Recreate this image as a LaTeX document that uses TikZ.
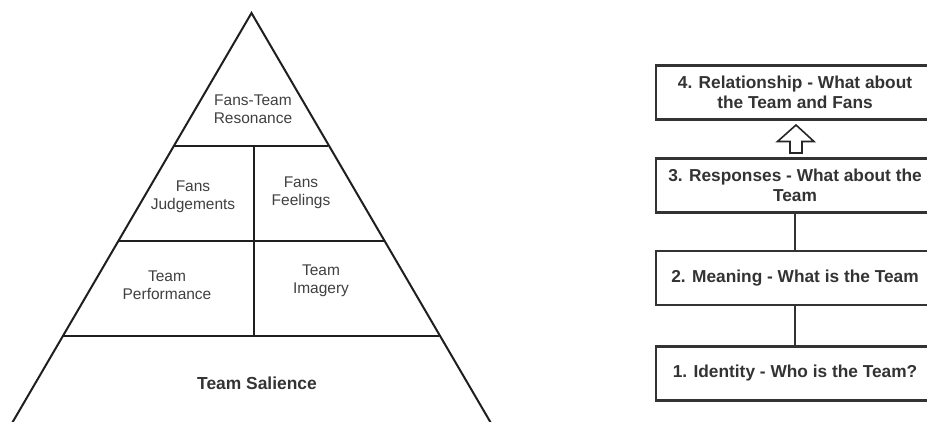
\documentclass[tikz,border=0pt]{standalone}
\usepackage{fontspec}
\setmainfont{Liberation Sans}
\begin{document}
\begin{tikzpicture}[x=1pt,y=-1pt,
  edge/.style={draw=black!88, line width=2pt},
  ptext/.style={text=black!75, align=center, inner sep=0pt, font=\fontsize{15.5pt}{18pt}\selectfont},
  ltext/.style={text=black!80, align=center, inner sep=0pt, font=\bfseries\fontsize{17.4pt}{20pt}\selectfont},
  levelbox/.style={draw=black!80, line width=2.2pt, fill=white, minimum width=278pt, minimum height=54pt, inner sep=0pt, align=center, text=black!80, font=\bfseries\fontsize{17.3pt}{20pt}\selectfont},
  link/.style={draw=black!80, line width=2.2pt},
  hollow/.style={draw=black!85, line width=1.6pt, fill=white, line join=miter}
]
\clip (0,0) rectangle (927,421);
\fill[white] (0,0) rectangle (927,421);

% ---------- pyramid ----------
\coordinate (apex) at (251.5,13);
\coordinate (bl) at (8,430);
\coordinate (br) at (495,430);
\draw[edge, line join=miter] (bl) -- (apex) -- (br);
\coordinate (l1) at (173.8,146); \coordinate (r1) at (327.5,146);
\coordinate (l2) at (118.5,241); \coordinate (r2) at (383.5,241);
\coordinate (l3) at (63,336);    \coordinate (r3) at (439,336);
\coordinate (vt) at (254,146);   \coordinate (vb) at (254,336);
\draw[edge] (l1) -- (r1);
\draw[edge] (l2) -- (r2);
\draw[edge] (l3) -- (r3);
\draw[edge] (vt) -- (vb);

\node[ptext] (res)  at (253,109) {Fans-Team\\Resonance};
\node[ptext] (judg) at (193,197) {Fans\\Judgements};
\node[ptext] (feel) at (301,193) {Fans\\Feelings};
\node[ptext] (perf) at (167,285) {Team\\Performance};
\node[ptext] (imag) at (321,281) {Team\\Imagery};
\node[ltext] (sal)  at (257,383) {Team Salience};

% ---------- levels ----------
\node[levelbox] (b4) at (795,92.5)  {4. Relationship - What about\\the Team and Fans};
\node[levelbox] (b3) at (795,185.5) {3. Responses - What about the\\Team};
\node[levelbox] (b2) at (795,278)   {2. Meaning - What is the Team};
\node[levelbox] (b1) at (795,373.5) {1. Identity - Who is the Team?};

\draw[link] (b3.south) -- (b2.north);
\draw[link] (b2.south) -- (b1.north);

% hollow up arrow from box 3 to box 4
\coordinate (arr) at (796,153);
\draw[hollow] (arr) ++(-6,0) -- ++(0,-11.5) -- ++(-12.5,0) -- (796,125)
  -- (814,141.5) -- ++(-12,0) -- ++(0,11.5) -- cycle;
\end{tikzpicture}
\end{document}
